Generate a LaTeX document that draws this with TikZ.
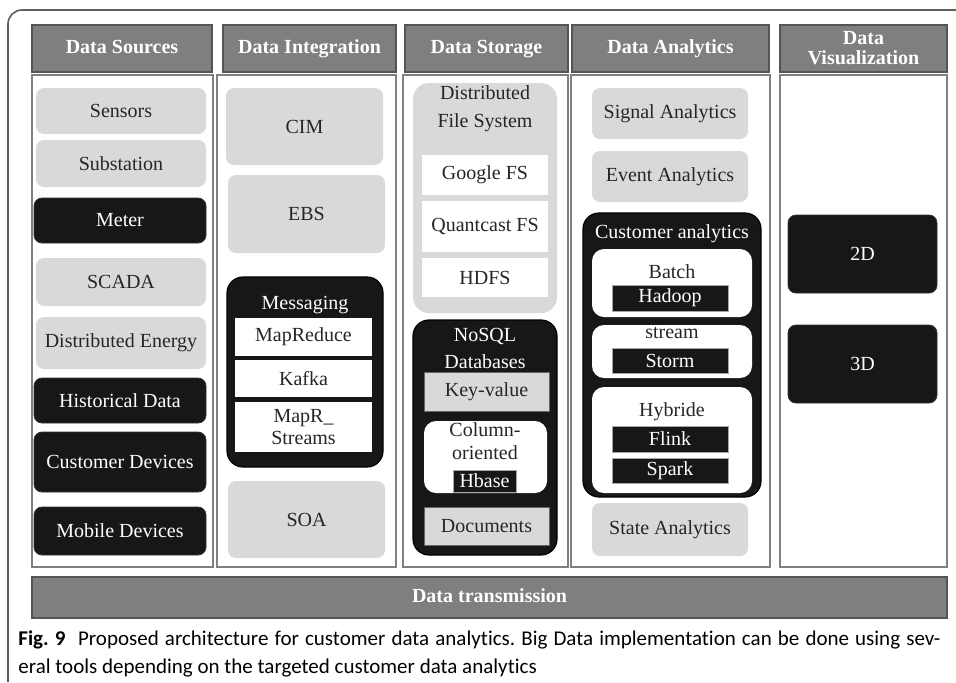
\documentclass[tikz,border=0pt]{standalone}
\usepackage{fontspec}
\setmainfont{Liberation Serif}
\newfontfamily\capfont[Ligatures={NoCommon}]{Carlito}
\definecolor{hdrgray}{HTML}{7F7F7F}
\definecolor{hdrborder}{HTML}{555555}
\definecolor{panelgray}{HTML}{808080}
\definecolor{lightg}{HTML}{D9D9D9}
\definecolor{darkb}{HTML}{171717}
\definecolor{txtdark}{HTML}{262626}
\definecolor{framec}{HTML}{5E5E5E}
\newcommand{\mybox}[7]{\node[#1, minimum width={(#5-#3)*0.5pt}, minimum height={(#6-#4)*0.5pt}] (#2) at ({(#3+#5)/2},{(#4+#6)/2}) {#7};}
\tikzset{
  base/.style={inner sep=0pt, outer sep=0pt, font=\fontsize{10}{11}\selectfont, align=center},
  hdrtwo/.style={base, fill=hdrgray, draw=hdrborder, line width=0.8pt, text=white, font=\fontsize{10}{10}\selectfont\bfseries},
  hdr/.style={hdrtwo, text height=6.8pt, text depth=2.2pt},
  panel/.style={base, draw=panelgray, line width=0.7pt, fill=white},
  lbox/.style={base, fill=lightg, rounded corners=4pt, text=txtdark},
  dbox/.style={base, fill=darkb, draw=black!80, line width=0.4pt, rounded corners=4pt, text=white},
  bigdark/.style={base, fill=darkb, draw=black, line width=0.6pt, rounded corners=8pt},
  biglight/.style={base, fill=lightg, rounded corners=8pt},
  wbox/.style={base, fill=white, text=txtdark},
  gbox/.style={base, fill=lightg, draw=black!60, line width=0.3pt, text=txtdark},
  wrbox/.style={base, fill=white, rounded corners=6pt, text=txtdark},
  tagbox/.style={base, fill=darkb, draw=gray!70, line width=0.3pt, text=white},
  wlabel/.style={base, text=white},
  klabel/.style={base, text=txtdark},
}
\begin{document}
\begin{tikzpicture}[x=0.5pt, y=-0.5pt]
\useasboundingbox (0,0) rectangle (956,682);
\fill[white] (0,0) rectangle (956,682);
% outer frame
\draw[framec, line width=0.8pt, rounded corners=7pt] (8,682) -- (8,10) -- (956,10);

% headers
\mybox{hdr}{h1}{32}{25}{212}{72}{Data Sources}
\mybox{hdr}{h2}{223}{25}{396}{72}{Data Integration}
\mybox{hdr}{h3}{405}{25}{568}{72}{Data Storage}
\mybox{hdr}{h4}{572}{25}{769}{72}{Data Analytics}
\mybox{hdrtwo}{h5}{780}{25}{947}{72}{Data\\Visualization}

% panels
\mybox{panel}{p1}{32}{75}{213}{567}{}
\mybox{panel}{p2}{217}{75}{396}{567}{}
\mybox{panel}{p3}{403}{75}{568}{567}{}
\mybox{panel}{p4}{571}{75}{770}{567}{}
\mybox{panel}{p5}{780}{75}{947}{567}{}

% Data Sources
\mybox{lbox}{sensors}{36}{88}{206}{134}{Sensors}
\mybox{lbox}{substation}{36}{140}{206}{187}{Substation}
\mybox{dbox}{meter}{34}{198}{206}{243}{Meter}
\mybox{lbox}{scada}{36}{258}{206}{306}{SCADA}
\mybox{lbox}{distenergy}{36}{317}{206}{369}{Distributed Energy}
\mybox{dbox}{historical}{34}{378}{206}{423}{Historical Data}
\mybox{dbox}{custdev}{34}{432}{206}{492}{Customer Devices}
\mybox{dbox}{mobile}{34}{507}{206}{555}{Mobile Devices}

% Data Integration
\mybox{lbox}{cim}{226}{88}{383}{165}{CIM}
\mybox{lbox}{ebs}{228}{175}{385}{253}{EBS}
\mybox{bigdark}{messaging}{227}{277}{383}{467}{}
\node[wlabel] (msglabel) at (305,305) {Messaging};
\mybox{wbox}{mapreduce}{235}{318}{372}{356}{MapReduce}
\mybox{wbox}{kafka}{235}{360}{372}{397}{Kafka}
\mybox{wbox}{maprs}{235}{402}{372}{452}{\fontsize{10}{11.5}\selectfont MapR\_\\Streams}
\mybox{lbox}{soa}{228}{481}{385}{558}{SOA}

% Data Storage
\mybox{biglight}{dfs}{413}{83}{557}{313}{}
\node[klabel, font=\fontsize{10}{14}\selectfont] (dfslabel) at (485,109) {Distributed\\File System};
\mybox{wbox}{googlefs}{422}{155}{548}{195}{Google FS}
\mybox{wbox}{quantfs}{422}{201}{548}{252}{Quantcast FS}
\mybox{wbox}{hdfs}{422}{258}{548}{297}{HDFS}
\mybox{bigdark}{nosql}{413}{320}{557}{555}{}
\node[wlabel, font=\fontsize{10}{13.5}\selectfont] (nosqllabel) at (485,348) {NoSQL\\Databases};
\mybox{gbox}{keyvalue}{424}{372}{549}{411}{Key-value}
\mybox{wrbox}{colori}{424}{421}{547}{493}{}
\node[klabel, font=\fontsize{10}{11.5}\selectfont] (colorilabel) at (485,441) {Column-\\oriented};
\mybox{tagbox}{hbase}{453}{470}{516}{492}{Hbase}
\mybox{gbox}{documents}{424}{507}{549}{545}{Documents}

% Data Analytics
\mybox{lbox}{signal}{592}{88}{748}{139}{Signal Analytics}
\mybox{lbox}{event}{592}{151}{748}{202}{Event Analytics}
\mybox{bigdark}{custan}{583}{213}{761}{497}{}
\node[wlabel] (custanlabel) at (672,234) {Customer analytics};
\mybox{wrbox}{batch}{592}{249}{752}{317}{}
\node[klabel] (batchlabel) at (672,272) {Batch};
\mybox{tagbox}{hadoop}{612}{285}{728}{311}{Hadoop}
\mybox{wrbox}{stream}{592}{325}{752}{378}{}
\node[klabel] (streamlabel) at (672,333) {stream};
\mybox{tagbox}{storm}{612}{348}{728}{373}{Storm}
\mybox{wrbox}{hybride}{592}{387}{752}{493}{}
\node[klabel] (hybridelabel) at (672,412) {Hybride};
\mybox{tagbox}{flink}{612}{426}{728}{452}{Flink}
\mybox{tagbox}{spark}{612}{458}{728}{483}{Spark}
\mybox{lbox}{state}{592}{503}{748}{556}{State Analytics}

% Data Visualization
\mybox{dbox}{twod}{788}{215}{937}{293}{2D}
\mybox{dbox}{threed}{788}{325}{937}{403}{3D}

% transmission bar
\mybox{hdr}{trans}{32}{577}{947}{618}{Data transmission}

% caption
\node[anchor=north west, inner sep=0pt, text width=461pt, align=justify,
      font=\capfont\fontsize{10.5}{14}\selectfont\frenchspacing, text=black] (caption) at (18,630)
  {\textbf{Fig.~9}\hspace{0.6em}Proposed architecture for customer data analytics. Big Data implementation can be done using sev-\linebreak eral tools depending on the targeted customer data analytics};
\end{tikzpicture}
\end{document}
